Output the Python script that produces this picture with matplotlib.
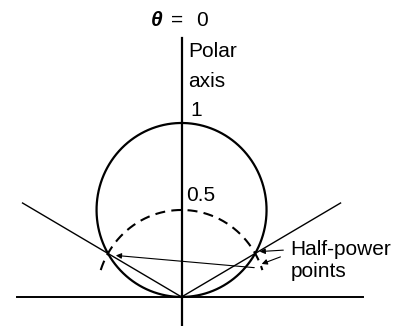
import numpy as np
import matplotlib.pyplot as plt

plt.rcParams['font.family'] = ['Liberation Sans', 'DejaVu Sans']

# field pattern r = cos(theta), half-power level and half-power angle
pattern_max = 1.0
half_level = 0.5
half_power_deg = 60.0
dash_span_deg = 72.0
ray_length = 1.08

# axis extents
h_axis = [-0.968, 1.068]
v_axis = [-0.2, 1.489]

# labels
top_labels = ["θ", "=", "0"]
axis_label = ["Polar", "axis"]
tick_labels = ["1", "0.5"]
hp_label = "Half-power\npoints"

fig = plt.figure(figsize=(4.09, 3.26), dpi=100)
ax = fig.add_axes([0, 0, 1, 1])
ax.set_xlim(-1.068, 1.338)
ax.set_ylim(-0.167, 1.707)
ax.axis("off")

# main lobe: r = cos(theta), theta measured from the polar axis
th = np.radians(np.linspace(-90, 90, 400))
r = pattern_max * np.cos(th)
ax.plot(r * np.sin(th), r * np.cos(th), color="black", lw=1.6)

# half-power level (dashed arc)
th_d = np.radians(np.linspace(-dash_span_deg, dash_span_deg, 200))
ax.plot(half_level * np.sin(th_d), half_level * np.cos(th_d),
        color="black", lw=1.5, dashes=(4.8, 3))

# axes
ax.plot(h_axis, [0, 0], color="black", lw=1.4)
ax.plot([0, 0], v_axis, color="black", lw=1.6)

# rays through the half-power points
a = np.radians(half_power_deg)
for s in (-1, 1):
    ax.plot([0, s * ray_length * np.sin(a)], [0, ray_length * np.cos(a)],
            color="black", lw=1.0)

# labels
fs = 15
ax.text(-0.144, 1.592, top_labels[0], fontsize=fs, style="italic",
        weight="bold", ha="center", va="center")
ax.text(-0.024, 1.592, top_labels[1], fontsize=fs, ha="center", va="center")
ax.text(0.118, 1.592, top_labels[2], fontsize=fs, ha="center", va="center")
ax.text(0.038, 1.41, axis_label[0], fontsize=fs, ha="left", va="center")
ax.text(0.038, 1.236, axis_label[1], fontsize=fs, ha="left", va="center")
ax.text(0.05, 1.07, tick_labels[0], fontsize=fs, ha="left", va="center")
ax.text(0.026, 0.585, tick_labels[1], fontsize=fs, ha="left", va="center")
ax.text(0.64, 0.21, hp_label, fontsize=fs, ha="left", va="center",
        linespacing=1.25)

# arrows to the half-power points
hp_r = pattern_max * np.cos(a)
right_pt = (hp_r * np.sin(a), hp_r * np.cos(a))
left_pt = (-hp_r * np.sin(a), hp_r * np.cos(a))
arrow = dict(arrowstyle="-|>", color="black", lw=0.8, mutation_scale=8)
ax.annotate("", xy=(right_pt[0] + 0.01, right_pt[1] + 0.01),
            xytext=(0.615, 0.27), arrowprops=arrow)
ax.annotate("", xy=(0.456, 0.184), xytext=(0.597, 0.236), arrowprops=arrow)
ax.annotate("", xy=(left_pt[0] + 0.03, left_pt[1] - 0.01),
            xytext=(0.444, 0.167), arrowprops=arrow)

fig.savefig("out.png", dpi=100)
